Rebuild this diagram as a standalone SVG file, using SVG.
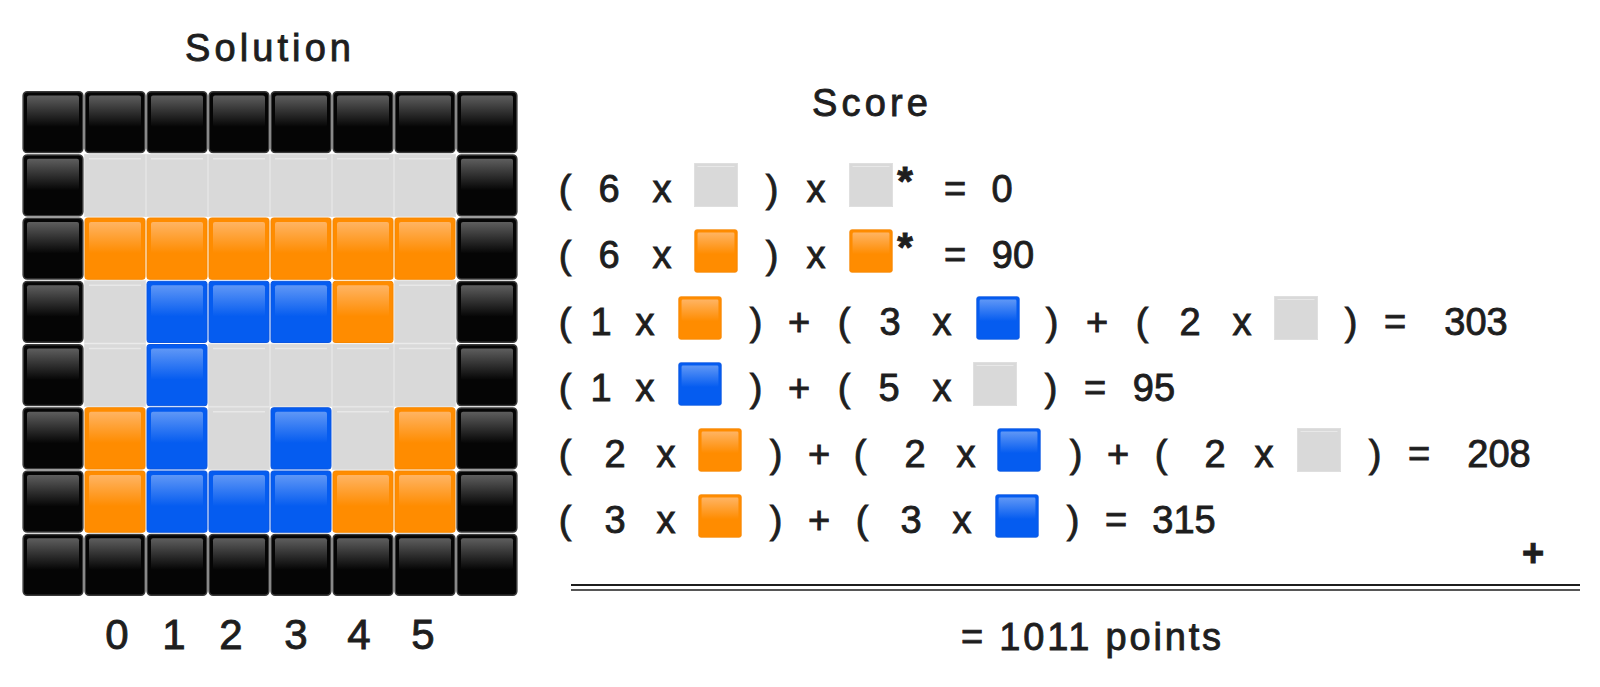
<svg xmlns="http://www.w3.org/2000/svg" xmlns:xlink="http://www.w3.org/1999/xlink" width="1600" height="687" viewBox="0 0 1600 687">
<style>
text{font-family:"Liberation Sans",Arial,sans-serif;fill:#1e1e1e;stroke:#1e1e1e;stroke-width:0.9px}
.t{font-size:38px;text-anchor:middle}
.n{font-size:42px;text-anchor:middle}
.s{font-size:40px;text-anchor:middle;font-weight:bold}
</style>
<defs>
<linearGradient id="gK" x1="0" y1="0" x2="0" y2="1"><stop offset="0" stop-color="#5e5e5e"/><stop offset="1" stop-color="#060606"/></linearGradient>
<linearGradient id="gO" x1="0" y1="0" x2="0" y2="1"><stop offset="0" stop-color="#ffb463"/><stop offset="1" stop-color="#ff8c00"/></linearGradient>
<linearGradient id="gB" x1="0" y1="0" x2="0" y2="1"><stop offset="0" stop-color="#5f97f6"/><stop offset="1" stop-color="#055cf0"/></linearGradient>
<symbol id="K" viewBox="0 0 62 63" preserveAspectRatio="none"><rect x="1.2" y="1.2" width="59.6" height="60.6" rx="4" fill="#050505" stroke="#3a3a3a" stroke-width="1.6"/><rect x="5" y="5" width="52" height="31" rx="2" fill="url(#gK)"/></symbol>
<symbol id="O" viewBox="0 0 62 63" preserveAspectRatio="none"><rect x="1" y="1" width="60" height="61" rx="3" fill="#ff8c00" stroke="#f58600" stroke-width="1"/><rect x="5" y="5" width="52" height="31" rx="2" fill="url(#gO)"/></symbol>
<symbol id="B" viewBox="0 0 62 63" preserveAspectRatio="none"><rect x="1" y="1" width="60" height="61" rx="3" fill="#055cf0" stroke="#0a55e0" stroke-width="1"/><rect x="5" y="5" width="52" height="31" rx="2" fill="url(#gB)"/></symbol>
<symbol id="G" viewBox="0 0 62 63" preserveAspectRatio="none"><rect x="0" y="0" width="62" height="63" fill="#d9d9d9"/><line x1="5" y1="5" x2="57" y2="5" stroke="#e8e8e8" stroke-width="1.5"/><rect x="0.5" y="0.5" width="61" height="62" fill="none" stroke="#e4e4e4" stroke-width="0.8"/></symbol>
</defs>
<rect width="1600" height="687" fill="#ffffff"/>

<g id="title-solution"><text x="268" y="61" class="t" font-size="44" textLength="166">Solution</text></g>

<g id="grid">
<g id="row0">
<use href="#K" x="22" y="90.5" width="62" height="63.25"/><use href="#K" x="84" y="90.5" width="62" height="63.25"/><use href="#K" x="146" y="90.5" width="62" height="63.25"/><use href="#K" x="208" y="90.5" width="62" height="63.25"/><use href="#K" x="270" y="90.5" width="62" height="63.25"/><use href="#K" x="332" y="90.5" width="62" height="63.25"/><use href="#K" x="394" y="90.5" width="62" height="63.25"/><use href="#K" x="456" y="90.5" width="62" height="63.25"/>
</g>
<g id="row1">
<use href="#K" x="22" y="153.75" width="62" height="63.25"/><use href="#G" x="84" y="153.75" width="62" height="63.25"/><use href="#G" x="146" y="153.75" width="62" height="63.25"/><use href="#G" x="208" y="153.75" width="62" height="63.25"/><use href="#G" x="270" y="153.75" width="62" height="63.25"/><use href="#G" x="332" y="153.75" width="62" height="63.25"/><use href="#G" x="394" y="153.75" width="62" height="63.25"/><use href="#K" x="456" y="153.75" width="62" height="63.25"/>
</g>
<g id="row2">
<use href="#K" x="22" y="217" width="62" height="63.25"/><use href="#O" x="84" y="217" width="62" height="63.25"/><use href="#O" x="146" y="217" width="62" height="63.25"/><use href="#O" x="208" y="217" width="62" height="63.25"/><use href="#O" x="270" y="217" width="62" height="63.25"/><use href="#O" x="332" y="217" width="62" height="63.25"/><use href="#O" x="394" y="217" width="62" height="63.25"/><use href="#K" x="456" y="217" width="62" height="63.25"/>
</g>
<g id="row3">
<use href="#K" x="22" y="280.25" width="62" height="63.25"/><use href="#G" x="84" y="280.25" width="62" height="63.25"/><use href="#B" x="146" y="280.25" width="62" height="63.25"/><use href="#B" x="208" y="280.25" width="62" height="63.25"/><use href="#B" x="270" y="280.25" width="62" height="63.25"/><use href="#O" x="332" y="280.25" width="62" height="63.25"/><use href="#G" x="394" y="280.25" width="62" height="63.25"/><use href="#K" x="456" y="280.25" width="62" height="63.25"/>
</g>
<g id="row4">
<use href="#K" x="22" y="343.5" width="62" height="63.25"/><use href="#G" x="84" y="343.5" width="62" height="63.25"/><use href="#B" x="146" y="343.5" width="62" height="63.25"/><use href="#G" x="208" y="343.5" width="62" height="63.25"/><use href="#G" x="270" y="343.5" width="62" height="63.25"/><use href="#G" x="332" y="343.5" width="62" height="63.25"/><use href="#G" x="394" y="343.5" width="62" height="63.25"/><use href="#K" x="456" y="343.5" width="62" height="63.25"/>
</g>
<g id="row5">
<use href="#K" x="22" y="406.75" width="62" height="63.25"/><use href="#O" x="84" y="406.75" width="62" height="63.25"/><use href="#B" x="146" y="406.75" width="62" height="63.25"/><use href="#G" x="208" y="406.75" width="62" height="63.25"/><use href="#B" x="270" y="406.75" width="62" height="63.25"/><use href="#G" x="332" y="406.75" width="62" height="63.25"/><use href="#O" x="394" y="406.75" width="62" height="63.25"/><use href="#K" x="456" y="406.75" width="62" height="63.25"/>
</g>
<g id="row6">
<use href="#K" x="22" y="470" width="62" height="63.25"/><use href="#O" x="84" y="470" width="62" height="63.25"/><use href="#B" x="146" y="470" width="62" height="63.25"/><use href="#B" x="208" y="470" width="62" height="63.25"/><use href="#B" x="270" y="470" width="62" height="63.25"/><use href="#O" x="332" y="470" width="62" height="63.25"/><use href="#O" x="394" y="470" width="62" height="63.25"/><use href="#K" x="456" y="470" width="62" height="63.25"/>
</g>
<g id="row7">
<use href="#K" x="22" y="533.25" width="62" height="63.25"/><use href="#K" x="84" y="533.25" width="62" height="63.25"/><use href="#K" x="146" y="533.25" width="62" height="63.25"/><use href="#K" x="208" y="533.25" width="62" height="63.25"/><use href="#K" x="270" y="533.25" width="62" height="63.25"/><use href="#K" x="332" y="533.25" width="62" height="63.25"/><use href="#K" x="394" y="533.25" width="62" height="63.25"/><use href="#K" x="456" y="533.25" width="62" height="63.25"/>
</g>
</g>

<g id="column-labels">
<text x="117" y="649" class="n">0</text><text x="174" y="649" class="n">1</text><text x="231" y="649" class="n">2</text><text x="296" y="649" class="n">3</text><text x="359" y="649" class="n">4</text><text x="423" y="649" class="n">5</text>
</g>

<g id="title-score"><text x="870" y="116" class="t" font-size="42" textLength="116">Score</text></g>

<g id="eq1">
<text x="565" y="202" class="t">(</text><text x="609" y="202" class="t">6</text><text x="662" y="202" class="t">x</text>
<use href="#G" x="694" y="163" width="44" height="44"/>
<text x="772" y="202" class="t">)</text><text x="816" y="202" class="t">x</text>
<use href="#G" x="849" y="163" width="44" height="44"/>
<text x="905" y="195" class="s">*</text>
<text x="955" y="202" class="t">=</text><text x="1002" y="202" class="t">0</text>
</g>
<g id="eq2">
<text x="565" y="268" class="t">(</text><text x="609" y="268" class="t">6</text><text x="662" y="268" class="t">x</text>
<use href="#O" x="694" y="229" width="44" height="44"/>
<text x="772" y="268" class="t">)</text><text x="816" y="268" class="t">x</text>
<use href="#O" x="849" y="229" width="44" height="44"/>
<text x="905" y="261" class="s">*</text>
<text x="955" y="268" class="t">=</text><text x="1013" y="268" class="t">90</text>
</g>
<g id="eq3">
<text x="565" y="335" class="t">(</text><text x="601" y="335" class="t">1</text><text x="645" y="335" class="t">x</text>
<use href="#O" x="678" y="296" width="44" height="44"/>
<text x="756" y="335" class="t">)</text><text x="799" y="335" class="t">+</text><text x="844" y="335" class="t">(</text><text x="890" y="335" class="t">3</text><text x="942" y="335" class="t">x</text>
<use href="#B" x="976" y="296" width="44" height="44"/>
<text x="1052" y="335" class="t">)</text><text x="1097" y="335" class="t">+</text><text x="1142" y="335" class="t">(</text><text x="1190" y="335" class="t">2</text><text x="1242" y="335" class="t">x</text>
<use href="#G" x="1274" y="296" width="44" height="44"/>
<text x="1351" y="335" class="t">)</text><text x="1395" y="335" class="t">=</text><text x="1476" y="335" class="t" font-size="44">303</text>
</g>
<g id="eq4">
<text x="565" y="401" class="t">(</text><text x="601" y="401" class="t">1</text><text x="645" y="401" class="t">x</text>
<use href="#B" x="678" y="362" width="44" height="44"/>
<text x="756" y="401" class="t">)</text><text x="799" y="401" class="t">+</text><text x="844" y="401" class="t">(</text><text x="889" y="401" class="t">5</text><text x="942" y="401" class="t">x</text>
<use href="#G" x="973" y="362" width="44" height="44"/>
<text x="1051" y="401" class="t">)</text><text x="1095" y="401" class="t">=</text><text x="1154" y="401" class="t">95</text>
</g>
<g id="eq5">
<text x="565" y="467" class="t">(</text><text x="615" y="467" class="t">2</text><text x="666" y="467" class="t">x</text>
<use href="#O" x="698" y="428" width="44" height="44"/>
<text x="776" y="467" class="t">)</text><text x="819" y="467" class="t">+</text><text x="860" y="467" class="t">(</text><text x="915" y="467" class="t">2</text><text x="966" y="467" class="t">x</text>
<use href="#B" x="997" y="428" width="44" height="44"/>
<text x="1076" y="467" class="t">)</text><text x="1118" y="467" class="t">+</text><text x="1161" y="467" class="t">(</text><text x="1215" y="467" class="t">2</text><text x="1264" y="467" class="t">x</text>
<use href="#G" x="1297" y="428" width="44" height="44"/>
<text x="1375" y="467" class="t">)</text><text x="1419" y="467" class="t">=</text><text x="1499" y="467" class="t" font-size="44">208</text>
</g>
<g id="eq6">
<text x="565" y="533" class="t">(</text><text x="615" y="533" class="t">3</text><text x="666" y="533" class="t">x</text>
<use href="#O" x="698" y="494" width="44" height="44"/>
<text x="776" y="533" class="t">)</text><text x="819" y="533" class="t">+</text><text x="862" y="533" class="t">(</text><text x="911" y="533" class="t">3</text><text x="962" y="533" class="t">x</text>
<use href="#B" x="995" y="494" width="44" height="44"/>
<text x="1073" y="533" class="t">)</text><text x="1116" y="533" class="t">=</text><text x="1184" y="533" class="t">315</text>
</g>

<g id="sum">
<text x="1533" y="566" class="t" font-size="30" font-weight="bold">+</text>
<line x1="571" y1="585" x2="1580" y2="585" stroke="#1e1e1e" stroke-width="2"/>
<line x1="571" y1="590" x2="1580" y2="590" stroke="#1e1e1e" stroke-width="1.5"/>
<text x="1091" y="650" class="t" textLength="260">= 1011 points</text>
</g>
</svg>
